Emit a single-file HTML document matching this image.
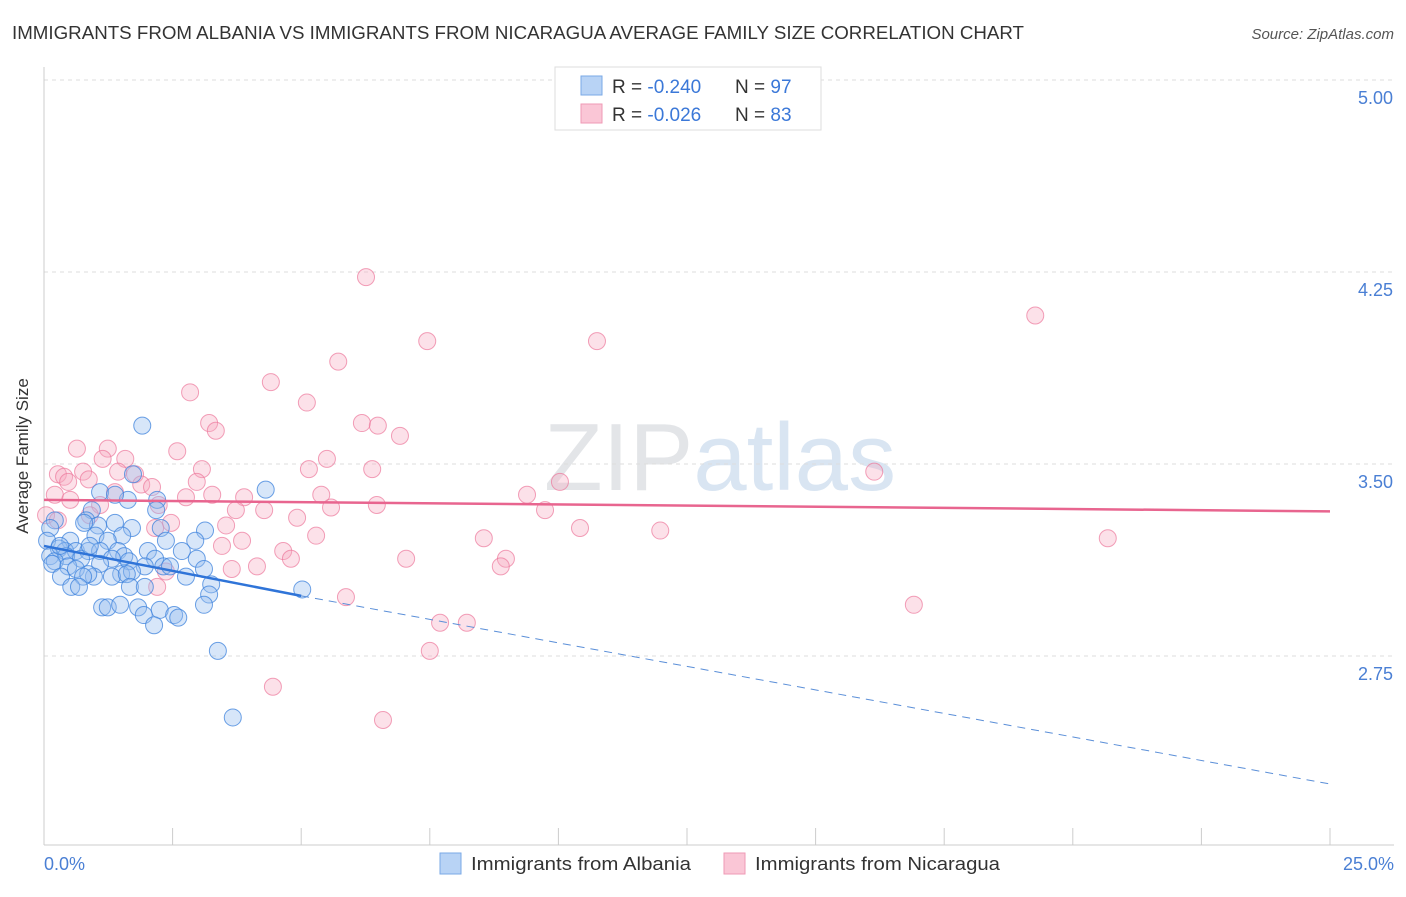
<!DOCTYPE html>
<html><head><meta charset="utf-8"><style>
body{margin:0;background:#fff;font-family:"Liberation Sans",sans-serif;}
svg text{font-family:"Liberation Sans",sans-serif;}
</style></head><body>
<svg id="chart" width="1406" height="892">
<text x="12" y="39" font-size="18" fill="#333" textLength="1012" lengthAdjust="spacingAndGlyphs">IMMIGRANTS FROM ALBANIA VS IMMIGRANTS FROM NICARAGUA AVERAGE FAMILY SIZE CORRELATION CHART</text>
<text x="1394" y="39" font-size="15" fill="#555" font-style="italic" text-anchor="end">Source: ZipAtlas.com</text>
<text x="720" y="490" font-size="96" fill="#e4e7ec" text-anchor="middle" font-family="Liberation Serif"><tspan fill="#e3e5e8">ZIP</tspan><tspan fill="#d9e5f2" font-family="Liberation Sans">atlas</tspan></text>
<g id="grid"></g>
<line x1="44" y1="67" x2="44" y2="845" stroke="#ccc"/>
<line x1="44" y1="845" x2="1394" y2="845" stroke="#ccc"/>
<g id="xticks"></g>
<text x="28" y="456" font-size="17" fill="#333" text-anchor="middle" transform="rotate(-90 28 456)">Average Family Size</text>
<text x="44" y="870" font-size="18" fill="#4a7fd4">0.0%</text>
<text x="1394" y="870" font-size="18" fill="#4a7fd4" text-anchor="end">25.0%</text>
<g id="points"></g>
<g id="lines"></g>
<g>
<rect x="555" y="67" width="266" height="63" fill="#fff" stroke="#ddd"/>
<rect x="581" y="76" width="21" height="19" fill="#b8d3f5" stroke="#7aa8e6"/>
<rect x="581" y="104" width="21" height="19" fill="#fac6d6" stroke="#ef9ab5"/>
<text x="612" y="93" font-size="19" fill="#333">R = <tspan fill="#3b78d8">-0.240</tspan><tspan x="735">N = </tspan><tspan fill="#3b78d8">97</tspan></text>
<text x="612" y="121" font-size="19" fill="#333">R = <tspan fill="#3b78d8">-0.026</tspan><tspan x="735">N = </tspan><tspan fill="#3b78d8">83</tspan></text>
</g>
<rect x="440" y="853" width="21" height="21" fill="#b8d3f5" stroke="#7aa8e6"/>
<text x="471" y="870" font-size="18" fill="#333" textLength="220" lengthAdjust="spacingAndGlyphs">Immigrants from Albania</text>
<rect x="724" y="853" width="21" height="21" fill="#fac6d6" stroke="#ef9ab5"/>
<text x="755" y="870" font-size="18" fill="#333" textLength="245" lengthAdjust="spacingAndGlyphs">Immigrants from Nicaragua</text>
</svg>
<script>
const yTicks=[5.00,4.25,3.50,2.75];
const yTickLabels=["5.00","4.25","3.50","2.75"];
const xTickValues=[0,2.5,5,7.5,10,12.5,15,17.5,20,22.5,25];
const albaniaX=[1.91,4.31,2.20,1.63,1.09,1.73,1.38,2.18,0.93,0.82,1.05,0.78,1.38,2.27,3.13,1.71,0.21,0.12,1.52,1.0,2.37,2.94,0.06,0.51,1.24,0.29,0.41,0.62,0.86,1.09,1.44,1.56,2.02,2.68,0.12,0.43,0.72,2.16,1.32,1.65,2.97,0.21,0.47,1.09,1.96,2.32,0.16,0.62,0.97,0.86,1.50,1.71,2.45,3.11,0.33,0.76,1.32,1.61,0.53,0.68,1.67,1.96,2.76,3.25,3.21,5.02,3.11,1.13,1.24,1.48,1.83,2.25,2.53,1.94,2.61,2.14,3.38,3.67,0.89,0.31];
const albaniaY=[3.65,3.40,3.36,3.36,3.39,3.46,3.38,3.32,3.32,3.28,3.26,3.27,3.27,3.25,3.24,3.25,3.28,3.25,3.22,3.22,3.20,3.20,3.20,3.20,3.20,3.17,3.16,3.16,3.16,3.16,3.16,3.14,3.16,3.16,3.14,3.14,3.13,3.13,3.13,3.12,3.13,3.12,3.10,3.11,3.10,3.10,3.11,3.09,3.06,3.07,3.07,3.08,3.10,3.09,3.06,3.06,3.06,3.07,3.02,3.02,3.02,3.02,3.06,3.03,2.99,3.01,2.95,2.94,2.94,2.95,2.94,2.93,2.91,2.91,2.90,2.87,2.77,2.51,3.18,3.18];
const nicaraguaX=[6.26,19.27,7.45,10.75,5.72,4.41,2.84,5.11,3.21,3.34,6.18,6.49,6.92,0.64,1.24,2.59,1.58,1.14,5.50,0.27,0.39,0.76,1.44,1.77,3.07,5.15,6.38,16.14,0.47,0.87,2.97,10.03,1.89,2.10,0.21,0.51,1.38,2.76,3.27,3.89,5.39,9.39,1.09,2.23,3.73,4.28,5.58,6.47,9.74,0.04,0.27,0.89,2.47,2.16,4.92,3.54,10.42,11.98,5.29,8.55,20.68,3.85,3.46,4.65,4.80,7.04,8.98,8.88,4.14,3.65,2.37,2.20,5.87,16.91,7.70,8.22,7.50,4.45,6.59];
const nicaraguaY=[4.23,4.08,3.98,3.98,3.90,3.82,3.78,3.74,3.66,3.63,3.66,3.65,3.61,3.56,3.56,3.55,3.52,3.52,3.52,3.46,3.45,3.47,3.47,3.46,3.48,3.48,3.48,3.47,3.43,3.44,3.43,3.43,3.42,3.41,3.38,3.36,3.39,3.37,3.38,3.37,3.38,3.38,3.34,3.34,3.32,3.32,3.33,3.34,3.32,3.30,3.28,3.30,3.27,3.25,3.29,3.26,3.25,3.24,3.22,3.21,3.21,3.20,3.18,3.16,3.13,3.13,3.13,3.10,3.10,3.09,3.08,3.02,2.98,2.95,2.88,2.88,2.77,2.63,2.50];
const albaniaTrendX=[0,5,25];
const albaniaTrendY=[3.18,2.985,2.25];
const nicaraguaTrendX=[0,25];
const nicaraguaTrendY=[3.36,3.315];

const NS="http://www.w3.org/2000/svg";
const xs=v=>44+v*51.44;
const ys=v=>80+(5-v)*256;
function mk(tag,attrs,parent){const e=document.createElementNS(NS,tag);for(const k in attrs)e.setAttribute(k,attrs[k]);document.getElementById(parent).appendChild(e);return e;}
yTicks.forEach((t,i)=>{
  const l=mk('line',{x1:44,x2:1394,y1:ys(t),y2:ys(t),stroke:'#ddd','stroke-dasharray':'4,4'},'grid');
  
  
  const tx=mk('text',{x:1393,y:ys(t)+24,'font-size':18,fill:'#4a7fd4','text-anchor':'end'},'grid');
  tx.textContent=yTickLabels[i];
  
  
});
xTickValues.forEach(t=>{
  const l=mk('line',{x1:xs(t),x2:xs(t),y1:828,y2:845,stroke:'#ccc'},'xticks');
  
  
});
nicaraguaX.forEach((x,i)=>{
  const c=mk('circle',{cx:xs(x),cy:ys(nicaraguaY[i]),r:8.5,fill:'rgba(246,168,192,0.35)',stroke:'rgba(236,120,155,0.7)','stroke-width':1},'points');
  
  
});
albaniaX.forEach((x,i)=>{
  const c=mk('circle',{cx:xs(x),cy:ys(albaniaY[i]),r:8.5,fill:'rgba(150,190,240,0.38)',stroke:'rgba(60,130,220,0.75)','stroke-width':1},'points');
  
  
});
const a1=mk('line',{x1:xs(albaniaTrendX[0]),y1:ys(albaniaTrendY[0]),x2:xs(albaniaTrendX[1]),y2:ys(albaniaTrendY[1]),stroke:'#2f74d8','stroke-width':2.5},'lines');


const a2=mk('line',{x1:xs(albaniaTrendX[1]),y1:ys(albaniaTrendY[1]),x2:xs(albaniaTrendX[2]),y2:ys(albaniaTrendY[2]),stroke:'#5b8fd8','stroke-width':1,'stroke-dasharray':'8,6'},'lines');


const n1=mk('line',{x1:xs(nicaraguaTrendX[0]),y1:ys(nicaraguaTrendY[0]),x2:xs(nicaraguaTrendX[1]),y2:ys(nicaraguaTrendY[1]),stroke:'#e8658f','stroke-width':2.5},'lines');


</script>
</body></html>
